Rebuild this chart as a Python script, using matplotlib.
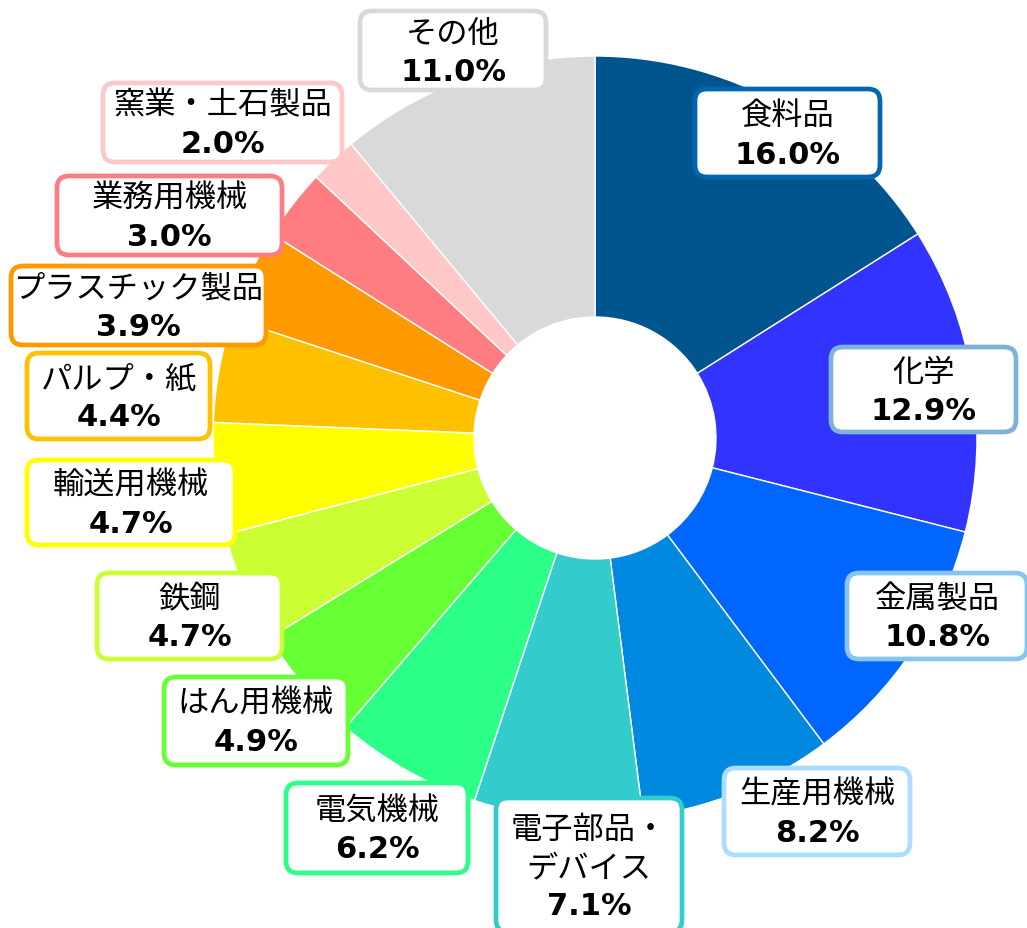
import matplotlib
matplotlib.use("Agg")
import matplotlib.pyplot as plt
from matplotlib.patches import FancyBboxPatch

plt.rcParams['font.family'] = ['Noto Sans CJK JP', 'DejaVu Sans']

# data (clockwise from top)
names = ['食料品', '化学', '金属製品', '生産用機械', '電子部品・\nデバイス', '電気機械',
         'はん用機械', '鉄鋼', '輸送用機械', 'パルプ・紙', 'プラスチック製品',
         '業務用機械', '窯業・土石製品', 'その他']
shares = [16.0, 12.9, 10.8, 8.2, 7.1, 6.2, 4.9, 4.7, 4.7, 4.4, 3.9, 3.0, 2.0, 11.0]

slice_colors = ['#00558F', '#3333FF', '#0066FF', '#0089DF', '#33CCCC', '#2BFF88',
                '#66FF33', '#CCFF33', '#FFFF00', '#FFC000', '#FF9900',
                '#FF7C80', '#FFC7C7', '#D9D9D9']
border_colors = ['#0066B3', '#7FB2D9', '#88C4F0', '#AADDFF', '#33CCCC', '#2BFF88',
                 '#66FF33', '#CCFF33', '#FFFF00', '#FFC000', '#FF9900',
                 '#FF7C80', '#FFC7C7', '#D9D9D9']

# label boxes in pixel coords (left, top, right, bottom) of the image
boxes = [(693, 88, 882, 180), (829, 346, 1018, 435), (845, 572, 1029, 662),
         (722, 767, 912, 858), (494, 797, 684, 935), (284, 782, 470, 876),
         (162, 676, 350, 768), (95, 572, 284, 662), (25, 459, 237, 548),
         (25, 352, 212, 442), (9, 265, 268, 348), (55, 175, 284, 258),
         (101, 82, 344, 165), (358, 10, 548, 93)]

W, H = 1027, 929
cx, cy = 595, H - 439
R, r = 382, 121

fig = plt.figure(figsize=(W / 100, H / 100), dpi=100)
ax = fig.add_axes([0, 0, 1, 1])
ax.pie(shares, colors=slice_colors, startangle=90, counterclock=False,
       center=(cx, cy), radius=R, frame=True,
       wedgeprops=dict(width=R - r, edgecolor='white', linewidth=1))
ax.set_xlim(0, W)
ax.set_ylim(0, H)
ax.set_aspect('equal')
ax.axis('off')

for name, val, bc, (x0, y0, x1, y1) in zip(names, shares, border_colors, boxes):
    box = FancyBboxPatch((x0 + 2, H - y1 + 2), x1 - x0 - 4, y1 - y0 - 4,
                         boxstyle="round,pad=0,rounding_size=12",
                         facecolor='white', edgecolor=bc, linewidth=3.4, zorder=5)
    ax.add_patch(box)
    mx = (x0 + x1) / 2
    lines = name.split('\n')
    if len(lines) == 2:
        ys = [830, 868, 907]
    else:
        my = (y0 + y1) / 2
        ys = [my - 18, my + 21]
    for ln, yy in zip(lines, ys[:-1]):
        ax.text(mx, H - yy, ln, ha='center', va='center', fontsize=22.5,
                color='black', zorder=6)
    ax.text(mx, H - ys[-1], '{:.1f}%'.format(val), ha='center', va='center',
            fontsize=22, fontweight='bold', family='DejaVu Sans',
            color='black', zorder=6)

fig.savefig('out.png', dpi=100)
